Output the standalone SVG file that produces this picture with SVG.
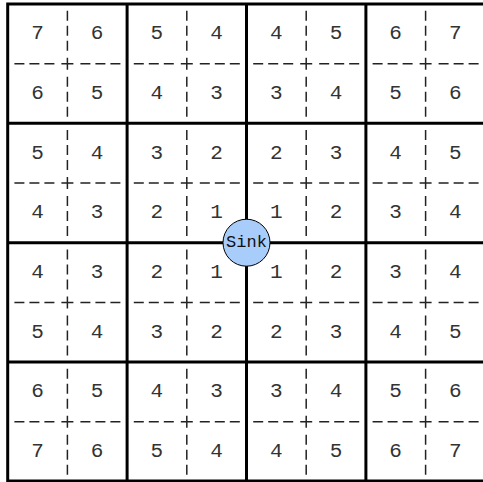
<svg xmlns="http://www.w3.org/2000/svg" width="483" height="482" viewBox="0 0 483 482">
<style>
.thick{stroke:#000;stroke-width:3;fill:none}
.dash{stroke:#222;stroke-width:1.5;stroke-dasharray:6 7 10 5 10 5 10 7;fill:none}
.n{font-family:"Liberation Mono","DejaVu Sans Mono",monospace;font-size:21px;fill:#333;text-anchor:middle;dominant-baseline:central}
.sink{font-family:"Liberation Mono","Courier New",monospace;font-size:17px;fill:#111;text-anchor:middle;dominant-baseline:central}
</style>
<defs>
<g id="hd">
<line x1="0" y1="0" x2="59.7" y2="0"/>
<line x1="0" y1="0" x2="-59.7" y2="0"/>
<line x1="0" y1="0" x2="0" y2="59.7"/>
<line x1="0" y1="0" x2="0" y2="-59.7"/>
</g>
</defs>
<rect width="483" height="482" fill="#fff"/>
<g id="grid">
<g class="dash">
<use href="#hd" x="67.4" y="63.7"/><use href="#hd" x="186.8" y="63.7"/><use href="#hd" x="306.2" y="63.7"/><use href="#hd" x="425.6" y="63.7"/>
<use href="#hd" x="67.4" y="183"/><use href="#hd" x="186.8" y="183"/><use href="#hd" x="306.2" y="183"/><use href="#hd" x="425.6" y="183"/>
<use href="#hd" x="67.4" y="302.4"/><use href="#hd" x="186.8" y="302.4"/><use href="#hd" x="306.2" y="302.4"/><use href="#hd" x="425.6" y="302.4"/>
<use href="#hd" x="67.4" y="421.8"/><use href="#hd" x="186.8" y="421.8"/><use href="#hd" x="306.2" y="421.8"/><use href="#hd" x="425.6" y="421.8"/>
</g>
<g class="thick">
<rect x="7.7" y="4" width="478" height="477"/>
<line x1="127.1" y1="4" x2="127.1" y2="481"/>
<line x1="246.5" y1="4" x2="246.5" y2="481"/>
<line x1="365.9" y1="4" x2="365.9" y2="481"/>
<line x1="7.7" y1="123.3" x2="485" y2="123.3"/>
<line x1="7.7" y1="242.7" x2="485" y2="242.7"/>
<line x1="7.7" y1="362" x2="485" y2="362"/>
</g>
</g>
<g id="labels" class="n">
<text x="37.5" y="33.8">7</text><text x="97" y="33.8">6</text><text x="156.8" y="33.8">5</text><text x="216.5" y="33.8">4</text><text x="276.2" y="33.8">4</text><text x="336" y="33.8">5</text><text x="395.6" y="33.8">6</text><text x="455.3" y="33.8">7</text>
<text x="37.5" y="93.5">6</text><text x="97" y="93.5">5</text><text x="156.8" y="93.5">4</text><text x="216.5" y="93.5">3</text><text x="276.2" y="93.5">3</text><text x="336" y="93.5">4</text><text x="395.6" y="93.5">5</text><text x="455.3" y="93.5">6</text>
<text x="37.5" y="153.2">5</text><text x="97" y="153.2">4</text><text x="156.8" y="153.2">3</text><text x="216.5" y="153.2">2</text><text x="276.2" y="153.2">2</text><text x="336" y="153.2">3</text><text x="395.6" y="153.2">4</text><text x="455.3" y="153.2">5</text>
<text x="37.5" y="212.9">4</text><text x="97" y="212.9">3</text><text x="156.8" y="212.9">2</text><text x="216.5" y="212.9">1</text><text x="276.2" y="212.9">1</text><text x="336" y="212.9">2</text><text x="395.6" y="212.9">3</text><text x="455.3" y="212.9">4</text>
<text x="37.5" y="272.5">4</text><text x="97" y="272.5">3</text><text x="156.8" y="272.5">2</text><text x="216.5" y="272.5">1</text><text x="276.2" y="272.5">1</text><text x="336" y="272.5">2</text><text x="395.6" y="272.5">3</text><text x="455.3" y="272.5">4</text>
<text x="37.5" y="332.2">5</text><text x="97" y="332.2">4</text><text x="156.8" y="332.2">3</text><text x="216.5" y="332.2">2</text><text x="276.2" y="332.2">2</text><text x="336" y="332.2">3</text><text x="395.6" y="332.2">4</text><text x="455.3" y="332.2">5</text>
<text x="37.5" y="391.9">6</text><text x="97" y="391.9">5</text><text x="156.8" y="391.9">4</text><text x="216.5" y="391.9">3</text><text x="276.2" y="391.9">3</text><text x="336" y="391.9">4</text><text x="395.6" y="391.9">5</text><text x="455.3" y="391.9">6</text>
<text x="37.5" y="451.6">7</text><text x="97" y="451.6">6</text><text x="156.8" y="451.6">5</text><text x="216.5" y="451.6">4</text><text x="276.2" y="451.6">4</text><text x="336" y="451.6">5</text><text x="395.6" y="451.6">6</text><text x="455.3" y="451.6">7</text>
</g>
<g id="sink">
<circle cx="246.5" cy="242.7" r="23.5" fill="#a8cdfb" stroke="#000" stroke-width="1"/>
<text class="sink" x="246.5" y="242.7">Sink</text>
</g>
</svg>
